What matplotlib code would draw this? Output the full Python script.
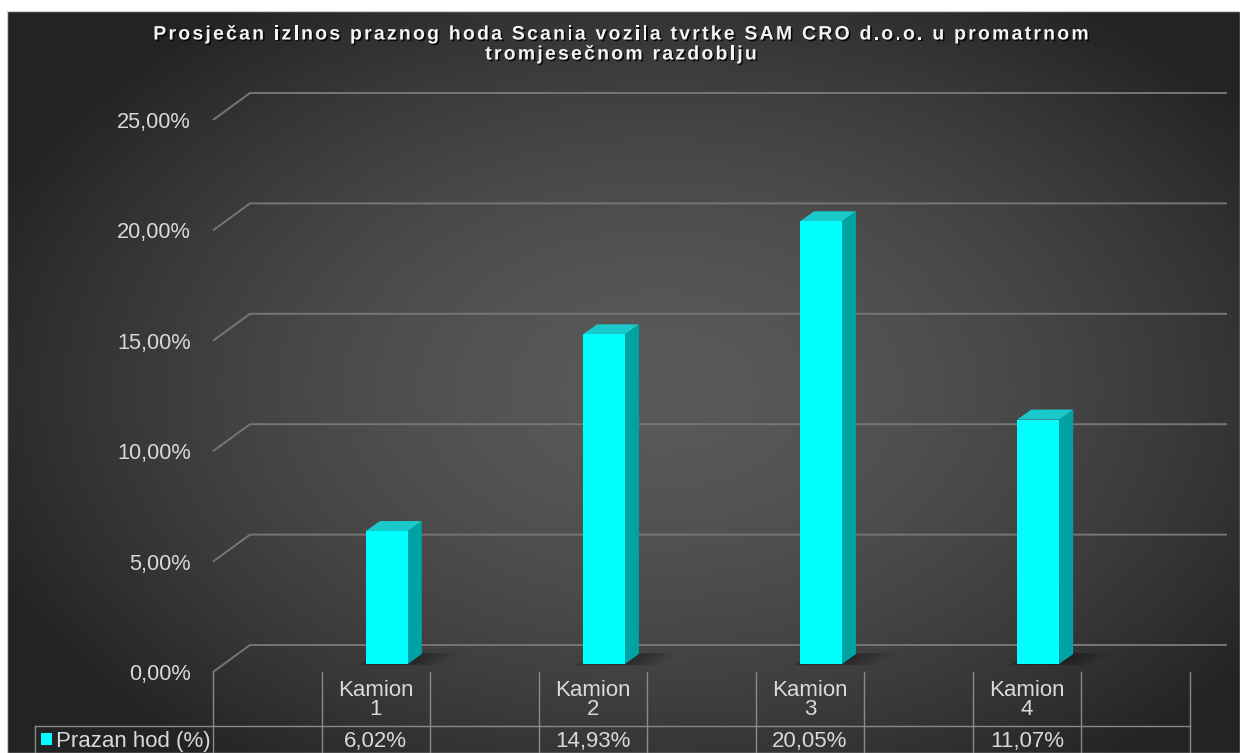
import numpy as np
import matplotlib
matplotlib.use('Agg')
import matplotlib.pyplot as plt
from matplotlib.patches import Polygon, Rectangle
import matplotlib.patheffects as pe
from matplotlib.transforms import blended_transform_factory
from matplotlib import font_manager
from matplotlib.font_manager import FontProperties

plt.rcParams['font.family'] = ['Liberation Sans', 'DejaVu Sans']

# ---------------- data ----------------
title_lines = ["Prosječan izlnos praznog hoda Scania vozila tvrtke SAM CRO d.o.o. u promatrnom",
               "tromjesečnom razdoblju"]
categories = ["Kamion\n1", "Kamion\n2", "Kamion\n3", "Kamion\n4"]
series_name = "Prazan hod (%)"
values = [6.02, 14.93, 20.05, 11.07]
yticks = [0, 5, 10, 15, 20, 25]


def pct(v):
    return f"{v:.2f}%".replace('.', ',')


# ---------------- layout / style ----------------
W, H = 1240, 753
DPI = 100
fig = plt.figure(figsize=(W / DPI, H / DPI), dpi=DPI, facecolor='white')


def fy(p):  # figure fraction from pixel row
    return (H - p) / H


txt_c = '#d9d9d9'
grid_c = '#767676'
tbl_c = '#8a8a8a'
front_c = '#00FFFF'
side_c = '#00A3A3'
top_c = '#1ACACA'
tbl_fs = 16

# background with radial gradient
bg = fig.add_axes([7 / W, 0, (W - 7) / W, (H - 11) / H])
bg.set_axis_off()
ny, nx = 300, 500
yy, xx = np.mgrid[0:ny, 0:nx]
px = 7 + xx / (nx - 1) * (W - 7)
py = 11 + yy / (ny - 1) * (H - 11)
r = np.sqrt(((px - 660) / 700) ** 2 + ((py - 390) / 460) ** 2)
g = np.clip(0.35 - 0.20 * r ** 1.6, 0.14, 1)
bg.imshow(np.dstack([g, g, g]), aspect='auto', extent=[0, 1, 0, 1],
          interpolation='bilinear')
bg.add_patch(Rectangle((0, 0), 1, 1, transform=bg.transAxes, fill=False,
                       ec='#cfcfcf', lw=1.0))

# main (front plane) axes
x0p, x1p, y0p, y1p = 213, 1190, 672, 120
ncol = 9
ax = fig.add_axes([x0p / W, fy(y0p), (x1p - x0p) / W, (y0p - y1p) / H])
ax.set_xlim(0, ncol)
ax.set_ylim(0, 25)
ax.patch.set_alpha(0)
for s in ax.spines.values():
    s.set_visible(False)
ax.set_xticks([])
ax.set_yticks(yticks)
ax.set_yticklabels([pct(v) for v in yticks], color=txt_c, fontsize=15.7)
ax.tick_params(axis='y', length=0, pad=16)

ux = (x1p - x0p) / ncol
uy = (y0p - y1p) / 25


def d(dxp, dyp):
    return dxp / ux, dyp / uy


# back wall gridlines with perspective slant
bx, by = d(37, 27)
for v in yticks:
    ax.plot([0, bx, ncol + bx], [v, v + by, v + by], color=grid_c, lw=1.4,
            clip_on=False, solid_capstyle='butt', zorder=1)

# 3D-like bars
pos = np.arange(len(values)) * 2 + 1.5
w = 42 / ux
fx, fyo = d(11, 8)
dx, dy = d(14, 10)
for x, v in zip(pos, values):
    xa = x - w / 2 + fx
    xb = x + w / 2 + fx
    ya = fyo
    yb = v + fyo
    # soft shadow on the floor
    for k in range(6):
        s = (k + 1) * 0.045
        ax.add_patch(Polygon([(xa - s * 0.3, ya - s * 0.25), (xb + s, ya - s * 0.25),
                              (xb + dx + s * 1.3, ya + dy + s * 0.2),
                              (xa + dx, ya + dy + s * 0.2)],
                             closed=True, fc='black', ec='none', alpha=0.06,
                             zorder=2, clip_on=False))
    ax.add_patch(Polygon([(xb, ya), (xb + dx, ya + dy), (xb + dx, yb + dy), (xb, yb)],
                         closed=True, fc=side_c, ec='none', zorder=3))
    ax.add_patch(Polygon([(xa, yb), (xb, yb), (xb + dx, yb + dy), (xa + dx, yb + dy)],
                         closed=True, fc=top_c, ec='none', zorder=3))
    ax.add_patch(Rectangle((xa, ya), w, v, fc=front_c, ec='none', zorder=4))

# data table
tr = blended_transform_factory(ax.transData, fig.transFigure)
left_x = (35 - x0p) / ux
for i in range(ncol + 1):
    ax.plot([i, i], [fy(672), fy(760)], transform=tr, color=tbl_c, lw=1.0,
            clip_on=False)
ax.plot([left_x, ncol], [fy(726), fy(726)], transform=tr, color=tbl_c, lw=1.0,
        clip_on=False)
ax.plot([left_x, left_x], [fy(726), fy(760)], transform=tr, color=tbl_c, lw=1.0,
        clip_on=False)
for x, c, v in zip(pos, categories, values):
    ax.text(x, fy(700), c, transform=tr, ha='center', va='center', color=txt_c,
            fontsize=tbl_fs, linespacing=0.93)
    ax.text(x, fy(741), pct(v), transform=tr, ha='center', va='center',
            color=txt_c, fontsize=tbl_fs)
ax.add_patch(Rectangle(((41 - x0p) / ux, fy(745)), 11 / ux, 12 / H, transform=tr,
                       fc=front_c, ec='none', clip_on=False))
ax.text((56 - x0p) / ux, fy(741), series_name, transform=tr, ha='left',
        va='center', color=txt_c, fontsize=tbl_fs)

# title, drawn with extra letter spacing (as in the original)
t_size = 14
t_spacing = 2.2  # px between letters
fp = FontProperties(family='Liberation Sans', weight='bold', size=t_size)
ft = font_manager.get_font(font_manager.findfont(fp))
ft.set_size(t_size, DPI)
try:
    from matplotlib.ft2font import LoadFlags
    flags = LoadFlags.NO_HINTING
except Exception:
    from matplotlib.ft2font import LOAD_NO_HINTING as flags


def advance(ch):
    return ft.load_char(ord(ch), flags=flags).linearHoriAdvance / 65536.0


title_effects = [pe.SimplePatchShadow(offset=(1.2, -1.2), shadow_rgbFace='black',
                                      alpha=0.8), pe.Normal()]
centre_x = 621
for line, yline in zip(title_lines, [33, 53]):
    advs = [advance(ch) for ch in line]
    total = sum(advs) + t_spacing * (len(line) - 1)
    xcur = centre_x - total / 2
    for ch, a in zip(line, advs):
        if ch != ' ':
            fig.text(xcur / W, fy(yline), ch, ha='left', va='center_baseline',
                     fontproperties=fp, color='#f4f4f4', path_effects=title_effects)
        xcur += a + t_spacing

fig.savefig('out.png', dpi=DPI, facecolor='white')
